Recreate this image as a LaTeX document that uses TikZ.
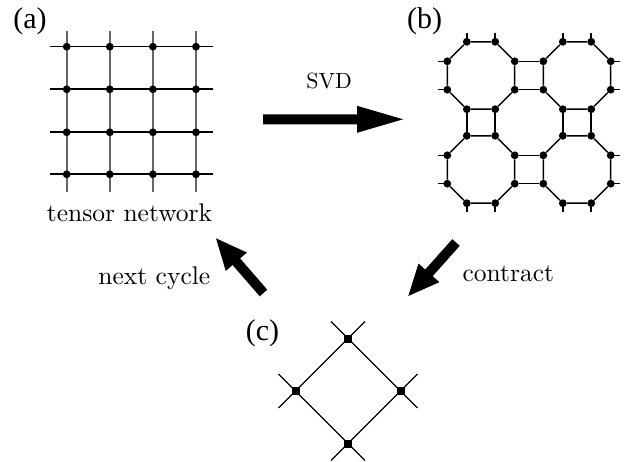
\documentclass[tikz,border=0pt]{standalone}
\usepackage{fontspec}
\newfontfamily\labfont{Liberation Serif}
\usetikzlibrary{calc}
\tikzset{
  dot/.style={circle,fill=black,inner sep=0pt,minimum size=7.8pt},
  sqdot/.style={rectangle,fill=black,inner sep=0pt,minimum size=8pt},
  hline/.style={line width=1.6pt,black},
  vline/.style={line width=1.6pt,black!60},
  bond/.style={line width=1.5pt,black},
  cbond/.style={line width=1.35pt,black},
  panel/.style={font=\labfont\fontsize{30}{36}\selectfont,inner sep=0pt},
  caption/.style={font=\fontsize{10}{12}\selectfont,scale=2.55,inner sep=0pt,anchor=base},
}
\newcommand\fatarrow[4]{% tail, tip, head length, head half width
  \coordinate (#1-h) at ($(#2)!#3!(#1)$);
  \fill ($(#1)!5pt!90:(#2)$) -- ($(#1-h)!5pt!90:(#2)$) -- ($(#1-h)!#4!90:(#2)$)
    -- (#2) -- ($(#1-h)!#4!-90:(#2)$) -- ($(#1-h)!5pt!-90:(#2)$)
    -- ($(#1)!5pt!-90:(#2)$) -- cycle;}
\begin{document}
\begin{tikzpicture}[x=1pt,y=-1pt]
\useasboundingbox (0,0) rectangle (629,462);

% ---------- (a) square lattice ----------
\foreach \x in {66.7,109.8,152.9,196}{\draw[vline] (\x,30.7) -- (\x,191.7);}
\foreach \y in {46.7,89.3,132.3,174.3}{\draw[hline] (50,\y) -- (212.7,\y);}
\foreach \i/\x in {1/66.7,2/109.8,3/152.9,4/196}{
  \foreach \j/\y in {1/46.7,2/89.3,3/132.3,4/174.3}{
    \node[dot] (a-\i-\j) at (\x,\y) {};}}

% ---------- (b) octagon-square lattice ----------
\def\ia{14.2}\def\ob{33.7}
\foreach \k/\cx/\cy in {1/481/75.5,2/577/75.5,3/481/169.5,4/577/169.5}{
  \node[dot] (o\k-1) at (\cx-\ia,\cy-\ob) {};
  \node[dot] (o\k-2) at (\cx+\ia,\cy-\ob) {};
  \node[dot] (o\k-3) at (\cx+\ob,\cy-\ia) {};
  \node[dot] (o\k-4) at (\cx+\ob,\cy+\ia) {};
  \node[dot] (o\k-5) at (\cx+\ia,\cy+\ob) {};
  \node[dot] (o\k-6) at (\cx-\ia,\cy+\ob) {};
  \node[dot] (o\k-7) at (\cx-\ob,\cy+\ia) {};
  \node[dot] (o\k-8) at (\cx-\ob,\cy-\ia) {};
  \draw[bond] (o\k-1) -- (o\k-2) -- (o\k-3) -- (o\k-4) -- (o\k-5)
    -- (o\k-6) -- (o\k-7) -- (o\k-8) -- (o\k-1);
}
% square bonds
\draw[bond] (o1-3) -- (o2-8) (o1-4) -- (o2-7);
\draw[bond] (o3-3) -- (o4-8) (o3-4) -- (o4-7);
\draw[bond] (o1-6) -- (o3-1) (o1-5) -- (o3-2);
\draw[bond] (o2-6) -- (o4-1) (o2-5) -- (o4-2);
% open legs
\foreach \v in {o1-1,o1-2,o2-1,o2-2}{\draw[bond] (\v.center) -- ++(0,-9);}
\foreach \v in {o3-5,o3-6,o4-5,o4-6}{\draw[bond] (\v.center) -- ++(0,9);}
\foreach \v in {o1-7,o1-8,o3-7,o3-8}{\draw[bond] (\v.center) -- ++(-9,0);}
\foreach \v in {o2-3,o2-4,o4-3,o4-4}{\draw[bond] (\v.center) -- ++(9,0);}

% ---------- (c) contracted lattice ----------
\node[sqdot] (c-t) at (348,338.5) {};
\node[sqdot] (c-l) at (295.5,391) {};
\node[sqdot] (c-r) at (400.5,391) {};
\node[sqdot] (c-b) at (348,443.5) {};
\draw[cbond] ($(c-l)!-24pt!(c-t)$) -- ($(c-t)!-24pt!(c-l)$);
\draw[cbond] ($(c-t)!-24pt!(c-r)$) -- ($(c-r)!-24pt!(c-t)$);
\draw[cbond] ($(c-r)!-24pt!(c-b)$) -- ($(c-b)!-24pt!(c-r)$);
\draw[cbond] ($(c-b)!-24pt!(c-l)$) -- ($(c-l)!-24pt!(c-b)$);

% ---------- labels ----------
\node[panel] (la) at (30,21.7) {(a)};
\node[panel] (lb) at (424.7,21) {(b)};
\node[panel] (lc) at (262.5,333.3) {(c)};
\node[caption] (tn) at (129.5,222) {tensor network};
\node[caption,scale=2.2/2.55] (svd) at (329.2,89) {SVD};
\node[caption] (nc) at (154.3,285) {next cycle};
\node[caption] (ct) at (508.3,281.7) {contract};

% ---------- arrows ----------
\coordinate (svd-tail) at (263,119.3);
\coordinate (svd-tip) at (403,119.3);
\coordinate (nc-tail) at (263.5,293);
\coordinate (nc-tip) at (216,238.3);
\coordinate (ct-tail) at (456,242.5);
\coordinate (ct-tip) at (408.3,296);
\fatarrow{svd-tail}{svd-tip}{46pt}{13.5pt}
\fatarrow{nc-tail}{nc-tip}{31pt}{14pt}
\fatarrow{ct-tail}{ct-tip}{31pt}{14pt}
\end{tikzpicture}
\end{document}
